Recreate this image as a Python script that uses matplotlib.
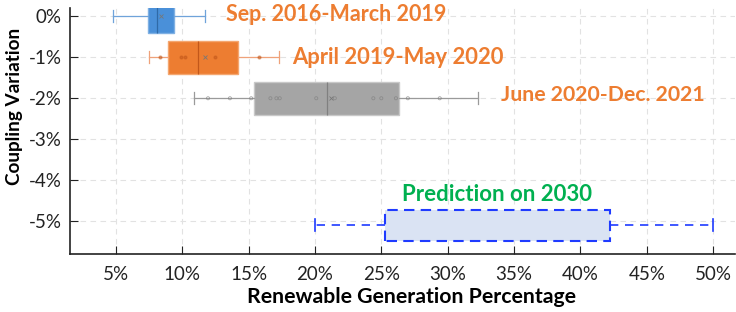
import matplotlib
matplotlib.use("Agg")
import matplotlib.pyplot as plt

plt.rcParams["font.family"] = ["Lato", "DejaVu Sans"]

# --- Data (percent) ---
labels = ["Sep. 2016-March 2019", "April 2019-May 2020", "June 2020-Dec. 2021", "Prediction on 2030"]
y_pos = [0, -1, -2, -5.1]
whis_lo = [4.8, 7.5, 10.9, 20.0]
q1 = [7.4, 8.9, 15.4, 25.3]
med = [8.1, 11.2, 20.9, 33.7]
q3 = [9.4, 14.2, 26.3, 42.2]
whis_hi = [11.7, 17.3, 32.3, 50.0]
means = [8.4, 11.75, 21.2, None]

pts_orange = [8.3, 9.95, 10.2, 12.5, 15.8]
pts_gray = [11.95, 13.6, 15.2, 16.65, 17.1, 17.35, 20.1, 21.5, 24.4, 25.0, 26.1, 27.0, 29.4]

face_cols = ["#4A90D9", "#ED7D31", "#A5A5A5"]
edge_cols = ["#7FB0E3", "#F4A66F", "#C8C8C8"]
line_cols = ["#6FA3DA", "#EFA27A", "#9A9A9A"]
med_cols = ["#2F6AA8", "#C2571A", "#808080"]
text_col = "#ED7D31"

fig = plt.figure(figsize=(7.36, 3.12), dpi=100)
ax = fig.add_axes([0.095, 0.186, 0.903, 0.788])

# --- Observed periods ---
for i in range(3):
    st = [dict(med=med[i], q1=q1[i], q3=q3[i], whislo=whis_lo[i], whishi=whis_hi[i],
               mean=means[i], fliers=[])]
    ax.bxp(st, positions=[y_pos[i]], widths=0.8, vert=False, patch_artist=True,
           showmeans=True, showfliers=False,
           boxprops=dict(facecolor=face_cols[i], edgecolor=edge_cols[i], linewidth=1),
           medianprops=dict(color=med_cols[i], linewidth=0.9),
           whiskerprops=dict(color=line_cols[i], linewidth=0.9),
           capprops=dict(color=line_cols[i], linewidth=0.9),
           meanprops=dict(marker="x", markeredgecolor="#777777", markersize=3, markeredgewidth=0.6),
           capwidths=0.3, zorder=3)

ax.scatter(pts_orange, [y_pos[1]] * len(pts_orange), s=4, color="#C2571A", alpha=0.5, zorder=4)
ax.scatter(pts_gray, [y_pos[2]] * len(pts_gray), s=5, facecolor="none", edgecolor="#808080",
           linewidth=0.6, alpha=0.7, zorder=4)

# --- Prediction ---
st = [dict(med=med[3], q1=q1[3], q3=q3[3], whislo=whis_lo[3], whishi=whis_hi[3], fliers=[])]
ax.bxp(st, positions=[y_pos[3]], widths=0.77, vert=False, patch_artist=True,
       showfliers=False,
       boxprops=dict(facecolor="#DAE3F3", edgecolor="#1F3BFF", linewidth=1.5, linestyle=(0, (5, 3))),
       medianprops=dict(color="#DAE3F3", linewidth=0),
       whiskerprops=dict(color="#1F3BFF", linewidth=1.2, linestyle=(0, (5, 4))),
       capprops=dict(color="#1F3BFF", linewidth=1.2),
       capwidths=0.3, zorder=3)

# --- Annotations ---
ax.text(13.3, 0.05, labels[0], color=text_col, fontsize=15.5, fontweight="bold", va="center")
ax.text(18.3, -1, labels[1], color=text_col, fontsize=15.8, fontweight="bold", va="center")
ax.text(34.0, -1.93, labels[2], color=text_col, fontsize=15.3, fontweight="bold", va="center")
ax.text(33.7, -4.36, labels[3], color="#00B050", fontsize=16, fontweight="bold", va="center", ha="center")

# --- Axes styling ---
ax.set_xlim(1.55, 51.6)
ax.set_ylim(-5.8, 0.2)
ax.set_xticks([5, 10, 15, 20, 25, 30, 35, 40, 45, 50])
ax.set_xticklabels([f"{v}%" for v in [5, 10, 15, 20, 25, 30, 35, 40, 45, 50]])
ax.set_yticks([0, -1, -2, -3, -4, -5])
ax.set_yticklabels(["0%", "-1%", "-2%", "-3%", "-4%", "-5%"])
ax.tick_params(direction="in", length=6, labelsize=13.5, colors="#222222", pad=9)
ax.tick_params(axis="y", pad=6)
ax.grid(True, color="#E2E2E2", linestyle=(0, (5, 4)), linewidth=0.8)
ax.set_axisbelow(True)
for s in ["top", "right"]:
    ax.spines[s].set_visible(False)
for s in ["left", "bottom"]:
    ax.spines[s].set_linewidth(1.2)
    ax.spines[s].set_color("#222222")

ax.set_xlabel("Renewable Generation Percentage", fontsize=15.3, fontweight="bold")
ax.set_ylabel("Coupling Variation", fontsize=13.6, fontweight="bold")
ax.xaxis.set_label_coords(0.514, -0.135)
ax.yaxis.set_label_coords(-0.071, 0.60)

fig.savefig("out.png", dpi=100)
